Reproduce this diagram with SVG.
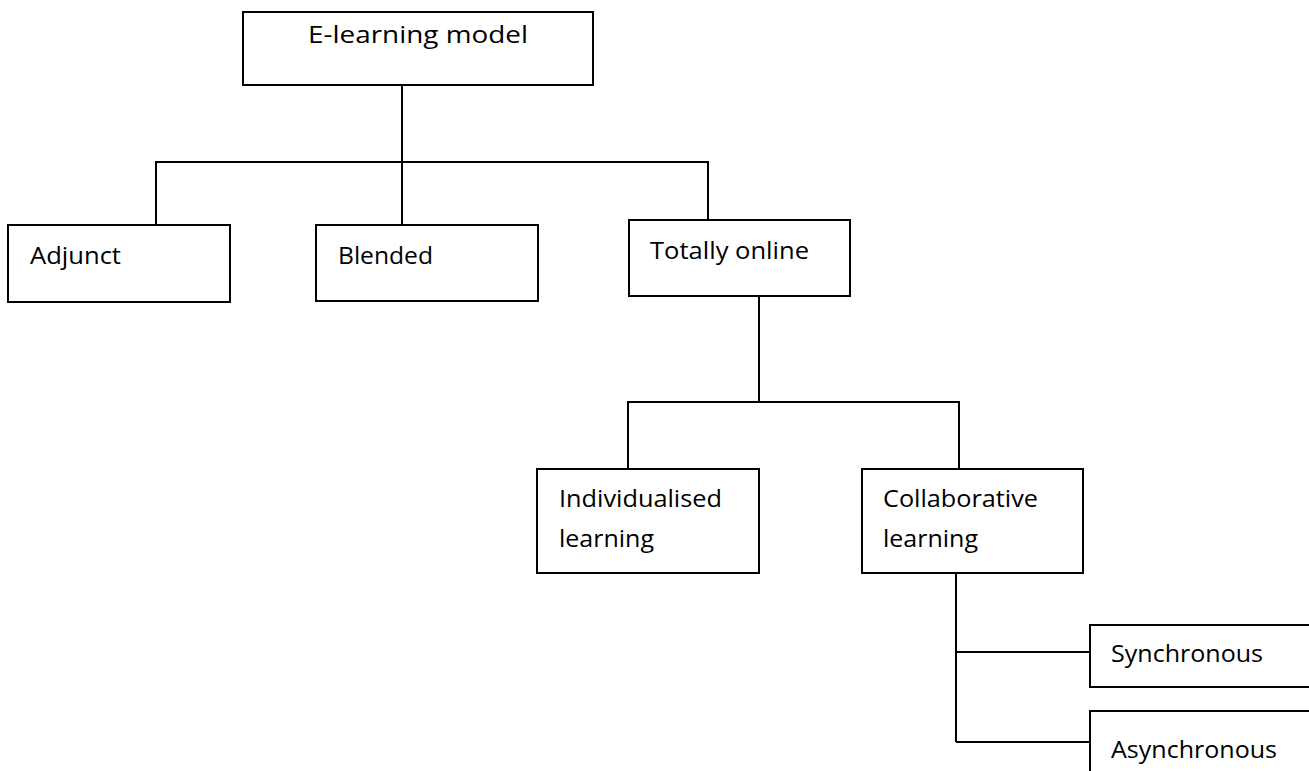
<svg xmlns="http://www.w3.org/2000/svg" width="1309" height="771" viewBox="0 0 1309 771">
  <style>
    .box { fill: #ffffff; stroke: #000000; stroke-width: 2; }
    .wire { fill: none; stroke: #000000; stroke-width: 2; }
    .label { font-family: "Open Sans", "Noto Sans", sans-serif; font-size: 23px; fill: #000000; }
  </style>
  <rect width="1309" height="771" fill="#ffffff"/>

  <!-- connectors -->
  <g id="connectors" class="wire">
    <path d="M402 85 V162"/>
    <path d="M156 225 V162 H708 V220"/>
    <path d="M402 162 V225"/>
    <path d="M759 296 V402"/>
    <path d="M628 469 V402 H959 V469"/>
    <path d="M956 573 V742"/>
    <path d="M956 652 H1090"/>
    <path d="M956 742 H1090"/>
  </g>

  <g id="node-elearning-model">
    <rect class="box" x="243" y="12" width="350" height="73"/>
    <text class="label" x="308" y="43" textLength="220" lengthAdjust="spacingAndGlyphs">E-learning model</text>
  </g>
  <g id="node-adjunct">
    <rect class="box" x="8" y="225" width="222" height="77"/>
    <text class="label" x="30" y="264" textLength="91" lengthAdjust="spacingAndGlyphs">Adjunct</text>
  </g>
  <g id="node-blended">
    <rect class="box" x="316" y="225" width="222" height="76"/>
    <text class="label" x="338" y="264" textLength="95" lengthAdjust="spacingAndGlyphs">Blended</text>
  </g>
  <g id="node-totally-online">
    <rect class="box" x="629" y="220" width="221" height="76"/>
    <text class="label" x="650" y="259" textLength="159" lengthAdjust="spacingAndGlyphs">Totally online</text>
  </g>
  <g id="node-individualised">
    <rect class="box" x="537" y="469" width="222" height="104"/>
    <text class="label" x="559" y="507" textLength="163" lengthAdjust="spacingAndGlyphs">Individualised</text>
    <text class="label" x="559" y="547" textLength="95" lengthAdjust="spacingAndGlyphs">learning</text>
  </g>
  <g id="node-collaborative">
    <rect class="box" x="862" y="469" width="221" height="104"/>
    <text class="label" x="883" y="507" textLength="155" lengthAdjust="spacingAndGlyphs">Collaborative</text>
    <text class="label" x="883" y="547" textLength="95" lengthAdjust="spacingAndGlyphs">learning</text>
  </g>
  <g id="node-synchronous">
    <rect class="box" x="1090" y="625" width="230" height="62"/>
    <text class="label" x="1111" y="662" textLength="152" lengthAdjust="spacingAndGlyphs">Synchronous</text>
  </g>
  <g id="node-asynchronous">
    <rect class="box" x="1090" y="711" width="230" height="80"/>
    <text class="label" x="1111" y="758" textLength="166" lengthAdjust="spacingAndGlyphs">Asynchronous</text>
  </g>
</svg>
